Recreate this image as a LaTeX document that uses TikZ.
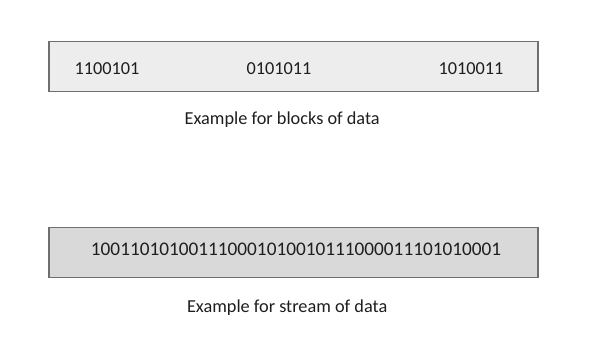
\documentclass[tikz,border=0pt]{standalone}
\usepackage{fontspec}
\setmainfont{Carlito}
\usetikzlibrary{positioning}
\definecolor{framegray}{HTML}{6F6F6F}\definecolor{lightfill}{HTML}{EDEDED}\definecolor{darkfill}{HTML}{D9D9D9}\definecolor{inkgray}{HTML}{1E1E1E}
\tikzset{every node/.style={font=\fontsize{13}{15}\selectfont,text=inkgray},
  databar/.style={draw=framegray,line width=1.4pt,minimum width=12.2cm,minimum height=1.25cm,inner sep=0pt},
  bits/.style={inner sep=0pt},caption/.style={inner sep=0pt}}

\begin{document}
\begin{tikzpicture}[x=.025cm,y=-.025cm]
\useasboundingbox (0,0) rectangle (600,345);
\node[databar,fill=lightfill] (blocks) at (293.5,66.5){};
\node[bits] (b1) at (107,69){1100101};\node[bits] (b2) at (279,69){0101011};\node[bits] (b3) at (471,69){1010011};
\node[caption,below=13.5pt of blocks,xshift=-8pt] (capblocks){Example for blocks of data};
\node[databar,fill=darkfill] (stream) at (293.5,252.5){};
\node[bits,font=\fontsize{13.7}{15}\selectfont] (s1) at (296,249){100110101001110001010010111000011101010001};
\node[caption,below=15pt of stream,xshift=-4.5pt] (capstream){Example for stream of data};
\end{tikzpicture}
\end{document}
